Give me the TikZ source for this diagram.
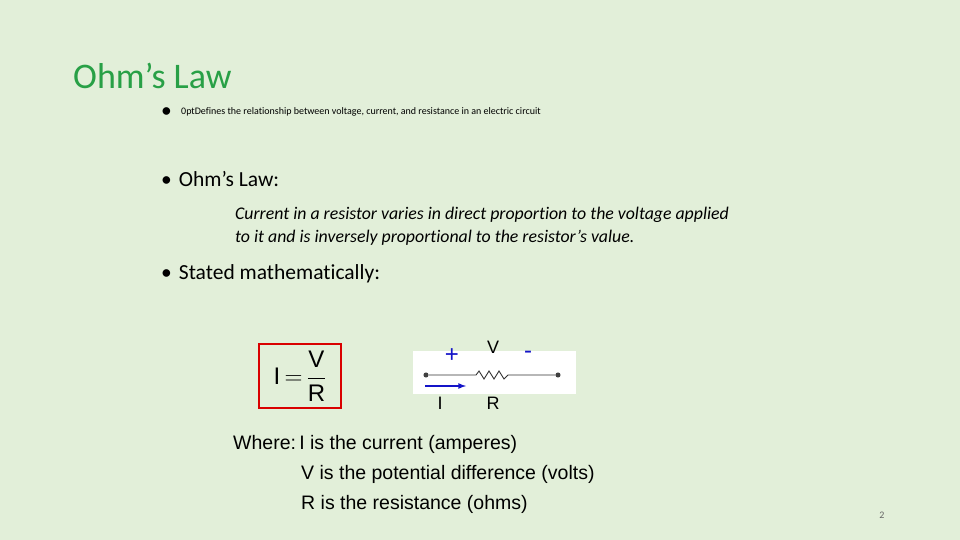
\documentclass[tikz,border=0pt]{standalone}
\usepackage{fontspec}
\setmainfont{Carlito}[Ligatures=NoCommon]
\newfontfamily\arialf{Liberation Sans}
\definecolor{bg}{RGB}{226,239,217}
\definecolor{ttl}{RGB}{40,160,70}
\definecolor{bl}{RGB}{20,20,200}
\begin{document}
\begin{tikzpicture}[x=1pt,y=-1pt,
  txt/.style={anchor=north west,inner sep=0pt,align=left},
  dot/.style={circle,fill=black!75,inner sep=1.8pt}]
\fill[bg] (0,0) rectangle (960,540);
\useasboundingbox (0,0) rectangle (960,540);
\node[txt,text=ttl,font=\fontsize{36}{40}\selectfont] (title) at (73,63) {Ohm’s Law};
\node[txt,font=\fontsize{21.5}{26}\selectfont] (b1) at (161,107) {•};
\node[txt,text width=611pt,align=justify,font=\hyphenpenalty=10000\fontsize{21.5}{26}\selectfont] (t1) at (181,107) {Defines the relationship between voltage, current, and resistance in an electric circuit\par};
\node[txt,font=\fontsize{21.5}{26}\selectfont] (b2) at (161,171) {•\hspace{7pt}Ohm’s Law:};
\node[txt,font=\itshape\fontsize{17.8}{23}\selectfont] (q) at (235,207) {Current in a resistor varies in direct proportion to the voltage applied\\to it and is inversely proportional to the resistor’s value.};
\node[txt,font=\fontsize{21.5}{26}\selectfont] (b3) at (161,264) {•\hspace{7pt}Stated mathematically:};
% formula
\node[draw=red!85!black,line width=2.5pt,minimum width=82pt,minimum height=64pt,font=\arialf\fontsize{24}{26}\selectfont] (f) at (300,376) {$\hbox{I}\,{=}\,\displaystyle\frac{\hbox{V}}{\hbox{R}}$};
% circuit
\fill[white] (413,351) rectangle (576,394);
\node[dot] (p1) at (426,375) {};
\node[dot] (p2) at (558,375) {};
\coordinate (r1) at (476,375);
\coordinate (r2) at (512,375);
\draw[black!80,line width=0.9pt] (p1) -- (r1) -- ++(3,-4) -- ++(5,8) -- ++(5,-8) -- ++(5,8) -- ++(5,-8) -- ++(5,8) -- ++(4,-4) -- (r2) -- (p2);
\coordinate (a1) at (425,386);
\coordinate (a2) at (466,386);
\draw[bl,line width=1.6pt,-latex] (a1) -- (a2);
\node[text=bl,font=\arialf\fontsize{24}{24}\selectfont] (plus) at (452,356) {+};
\node[text=bl,font=\arialf\fontsize{24}{24}\selectfont] (minus) at (528,355) {-};
\node[font=\arialf\fontsize{18}{18}\selectfont] (V) at (493,347) {V};
\node[font=\arialf\fontsize{18}{18}\selectfont] (I) at (440,403) {I};
\node[font=\arialf\fontsize{18}{18}\selectfont] (R) at (493,403) {R};
\node[txt,font=\arialf\fontsize{19.5}{30}\selectfont] (w) at (233,435) {Where:\,I is the current (amperes)\\\hspace{68pt}V is the potential difference (volts)\\\hspace{68pt}R is the resistance (ohms)};
\node[text=black!60,font=\fontsize{10}{12}\selectfont] (pg) at (882,515) {2};
\end{tikzpicture}
\end{document}
